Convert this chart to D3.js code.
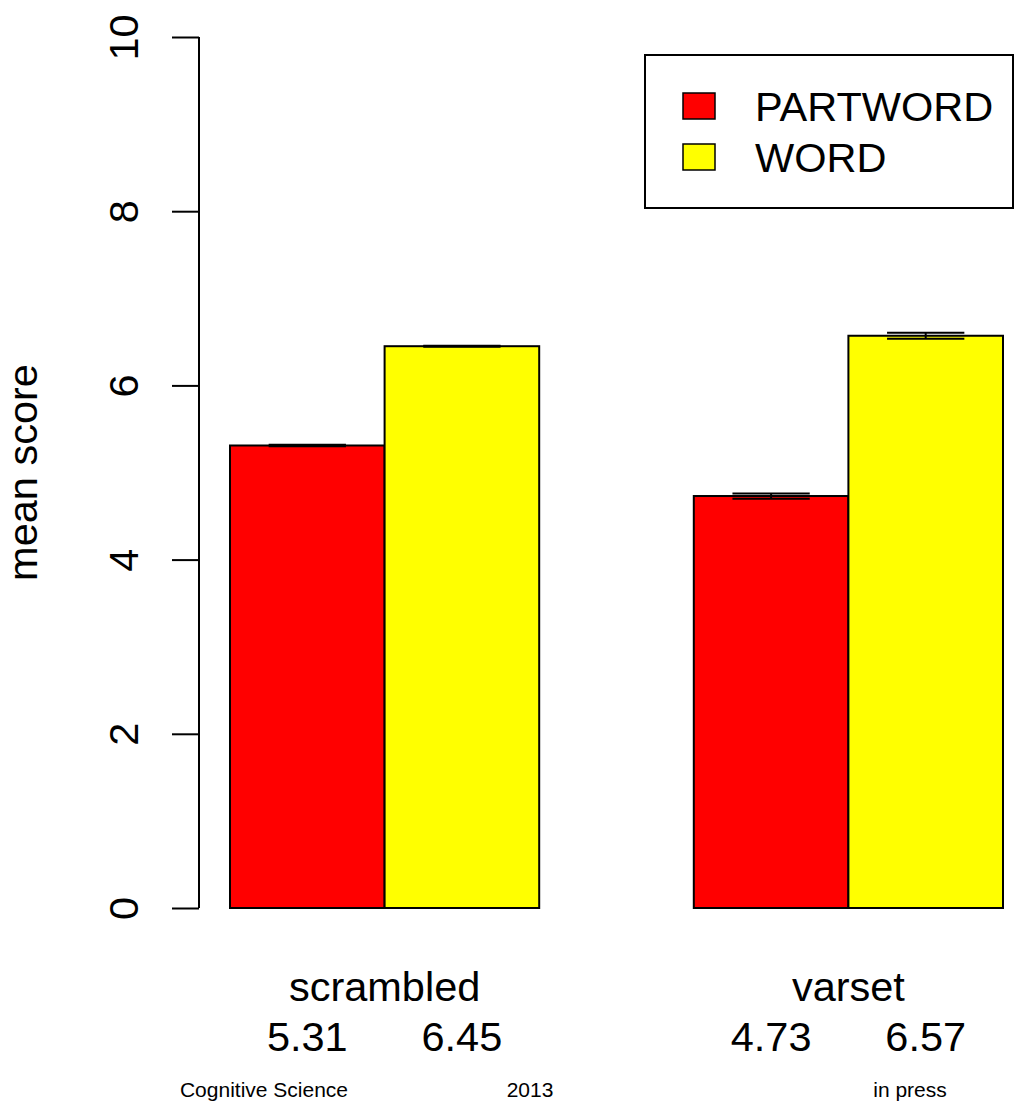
<!DOCTYPE html>
<html>
<head>
<meta charset="utf-8">
<script src="https://cdn.jsdelivr.net/npm/d3@7"></script>
<style>
  body { margin: 0; background: #fff; }
  text { font-family: "Liberation Sans", Arial, sans-serif; fill: #000; }
</style>
</head>
<body>
<div id="chart"></div>
<script>
// Chart data
const groups = ["scrambled", "varset"];
const series = ["PARTWORD", "WORD"];
const colors = ["#ff0000", "#ffff00"];
const means = [[5.31, 6.45], [4.73, 6.57]];
const errors = [[0.01, 0.005], [0.03, 0.035]];
const meanLabels = [["5.31", "6.45"], ["4.73", "6.57"]];
const yTicks = [0, 2, 4, 6, 8, 10];
const footer = ["Cognitive Science", "2013", "in press"];

const svgWidth = 1014;
const svgHeight = 1102;
const bigFont = "41.5px";

const svg = d3.select("#chart")
    .append("svg")
    .attr("width", svgWidth)
    .attr("height", svgHeight);

// Scales: R barplot style, bar width 1, one unit gap between groups
const xScale = d3.scaleLinear().domain([1, 6]).range([230, 1003]);
const yScale = d3.scaleLinear().domain([0, 10]).range([908, 37]);

// flatten bars
const bars = [];
groups.forEach((g, gi) => {
    series.forEach((s, si) => {
        const x0 = 1 + gi * 3 + si;
        bars.push({ group: g, series: s, gi, si, x0, value: means[gi][si], err: errors[gi][si] });
    });
});

svg.selectAll(".bar")
    .data(bars)
    .enter().append("rect")
    .attr("class", "bar")
    .attr("x", d => xScale(d.x0))
    .attr("y", d => yScale(d.value))
    .attr("width", d => xScale(d.x0 + 1) - xScale(d.x0))
    .attr("height", d => yScale(0) - yScale(d.value))
    .attr("fill", d => colors[d.si])
    .attr("stroke", "#000")
    .attr("stroke-width", 2);

// Error bars
const errG = svg.append("g").attr("stroke", "#000").attr("stroke-width", 2);
bars.forEach(d => {
    const cx = xScale(d.x0 + 0.5);
    const hw = xScale(d.x0 + 0.25) - xScale(d.x0);
    errG.append("line")
        .attr("x1", cx).attr("x2", cx)
        .attr("y1", yScale(d.value + d.err)).attr("y2", yScale(d.value - d.err));
    [d.value + d.err, d.value - d.err].forEach(v => {
        errG.append("line")
            .attr("x1", cx - hw).attr("x2", cx + hw)
            .attr("y1", yScale(v)).attr("y2", yScale(v));
    });
});

// Y axis
const yAxis = d3.axisLeft(yScale)
    .tickValues(yTicks)
    .tickSize(27)
    .tickPadding(0)
    .tickFormat(d3.format("d"));

const axisG = svg.append("g")
    .attr("transform", "translate(199,0)")
    .call(yAxis);
axisG.select(".domain")
    .attr("d", `M0,${yScale(0)}V${yScale(10)}`)
    .attr("stroke", "#000").attr("stroke-width", 2);
axisG.selectAll(".tick line").attr("stroke", "#000").attr("stroke-width", 2);
axisG.selectAll(".tick text")
    .attr("x", 0).attr("y", 0).attr("dy", null)
    .attr("transform", "translate(-61,0) rotate(-90)")
    .attr("text-anchor", "middle")
    .style("font-size", bigFont)
    .style("font-family", "'Liberation Sans', Arial, sans-serif")
    .attr("fill", "#000");

// Y label
svg.append("text")
    .attr("transform", `translate(37,${(yScale(0) + yScale(10)) / 2}) rotate(-90)`)
    .attr("text-anchor", "middle")
    .style("font-size", bigFont)
    .text("mean score");

// Group labels and value labels
groups.forEach((g, gi) => {
    svg.append("text")
        .attr("x", xScale(2 + gi * 3))
        .attr("y", 1001)
        .attr("text-anchor", "middle")
        .style("font-size", bigFont)
        .text(g);
    series.forEach((s, si) => {
        svg.append("text")
            .attr("x", xScale(1.5 + gi * 3 + si))
            .attr("y", 1051)
            .attr("text-anchor", "middle")
            .style("font-size", bigFont)
            .text(meanLabels[gi][si]);
    });
});

// Legend
const legend = svg.append("g");
legend.append("rect")
    .attr("x", 645).attr("y", 55)
    .attr("width", 368).attr("height", 153)
    .attr("fill", "#fff").attr("stroke", "#000").attr("stroke-width", 2);
series.forEach((s, i) => {
    legend.append("rect")
        .attr("x", 683).attr("y", 93 + i * 51)
        .attr("width", 32).attr("height", 26)
        .attr("fill", colors[i]).attr("stroke", "#000").attr("stroke-width", 1.5);
    legend.append("text")
        .attr("x", 755).attr("y", 121 + i * 51)
        .style("font-size", bigFont)
        .text(s);
});

// Footer
const footerX = [264, 530, 910];
footer.forEach((t, i) => {
    svg.append("text")
        .attr("x", footerX[i]).attr("y", 1097)
        .attr("text-anchor", "middle")
        .style("font-size", "21px")
        .text(t);
});
</script>
</body>
</html>
